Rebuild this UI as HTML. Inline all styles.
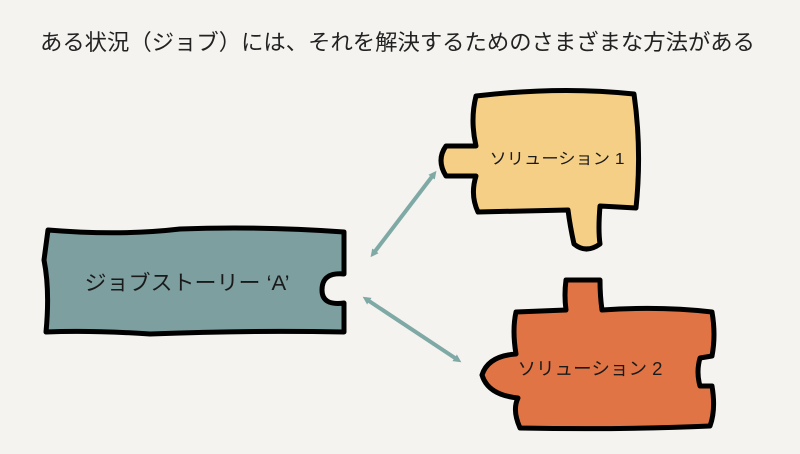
<!DOCTYPE html>
<html><head><meta charset="utf-8"><style>
html,body{margin:0;padding:0;background:#f4f3ef;}
body{width:800px;height:449px;overflow:hidden;position:relative;font-family:"Liberation Sans","Noto Sans CJK JP",sans-serif;}
</style></head><body>
<svg width="800" height="449" viewBox="0 0 800 449" xmlns="http://www.w3.org/2000/svg">
<defs>
<marker id="ah" markerWidth="8" markerHeight="8" refX="4" refY="4" orient="auto-start-reverse" markerUnits="userSpaceOnUse">
<path d="M0,0 L8,4 L0,8 z" fill="#7fa9a5"/></marker>
</defs>
<text x="40" y="50" font-size="22" fill="#222" font-family="Liberation Sans, Noto Sans CJK JP, sans-serif" textLength="715" lengthAdjust="spacingAndGlyphs">ある状況（ジョブ）には、それを解決するためのさまざまな方法がある</text>

<!-- job story -->
<path d="M48,230 Q120,236 180,229 Q260,226 344,232 L344,274 Q322,272 322,290 Q322,306 344,303 L344,332 Q250,330 150,334 Q90,330 46,332 Q50,290 44,260 Z" fill="#7d9fa0" stroke="#000" stroke-width="5" stroke-linejoin="round"/>
<text x="187" y="290" font-size="21" text-anchor="middle" fill="#1a1a1a" textLength="205" lengthAdjust="spacingAndGlyphs">ジョブストーリー ‘A’</text>

<!-- solution 1 -->
<path d="M476,96 Q560,86 634,94 Q642,150 636,208 L600,206 Q598,230 600,244 Q586,254 574,244 Q570,226 568,210 L478,212 Q470,195 476,176 L446,176 Q436,160 446,146 L476,146 Q470,120 476,96 Z" fill="#f5cf85" stroke="#000" stroke-width="5" stroke-linejoin="round"/>
<text x="557" y="164" font-size="16" text-anchor="middle" fill="#1a1a1a" textLength="135" lengthAdjust="spacingAndGlyphs">ソリューション 1</text>

<!-- solution 2 -->
<path d="M566,280 L600,280 Q600,296 602,310 Q660,306 712,312 Q716,335 712,356 L700,358 Q696,372 700,386 L712,386 Q716,410 710,426 Q620,430 520,428 Q512,410 518,398 Q488,395 482,375 Q488,356 516,354 Q512,330 516,312 L566,310 Q564,295 566,280 Z" fill="#e07445" stroke="#000" stroke-width="5" stroke-linejoin="round"/>
<text x="590" y="375" font-size="18" text-anchor="middle" fill="#1a1a1a" textLength="145" lengthAdjust="spacingAndGlyphs">ソリューション 2</text>

<!-- arrows -->
<line x1="373" y1="254" x2="434" y2="174" stroke="#7fa9a5" stroke-width="4" marker-start="url(#ah)" marker-end="url(#ah)"/>
<line x1="366" y1="299" x2="458" y2="360" stroke="#7fa9a5" stroke-width="4" marker-start="url(#ah)" marker-end="url(#ah)"/>
</svg>
</body></html>
